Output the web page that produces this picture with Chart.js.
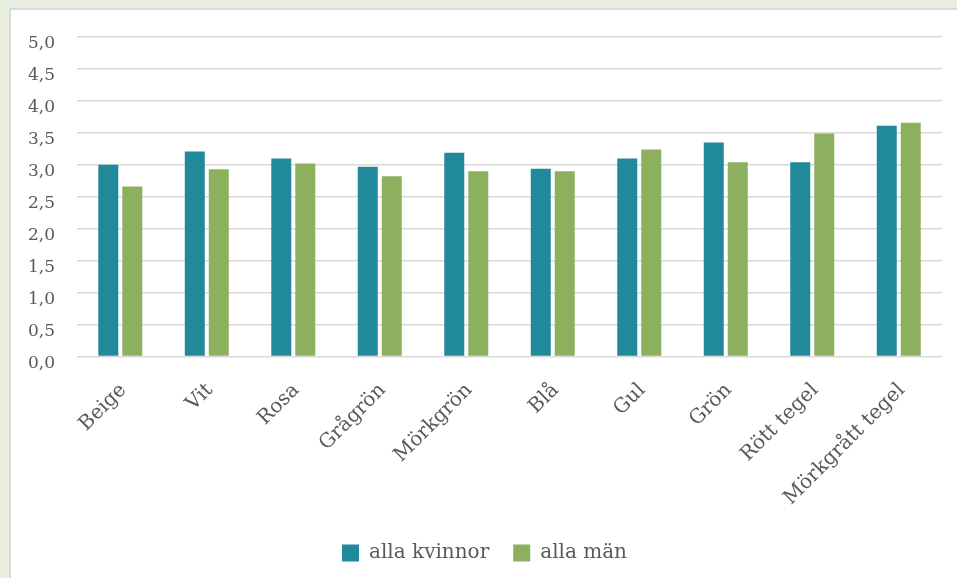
<!DOCTYPE html>
<html>
<head>
<meta charset="utf-8">
<script src="https://cdn.jsdelivr.net/npm/chart.js@4"></script>
<style>
    html, body { margin: 0; padding: 0; }
    body { width: 957px; height: 578px; background: #e9efdf; position: relative; overflow: hidden; }
    #panel {
        position: absolute; left: 9px; top: 8px; right: 0; bottom: 0;
        background: #ffffff; border-left: 2px solid #d9d9d9; border-top: 2px solid #d9d9d9;
    }
    #chart { display: block; }
</style>
</head>
<body>
<div id="panel"><canvas id="chart" width="946" height="568"></canvas></div>
<script>
// Data
const categories = ['Beige', 'Vit', 'Rosa', 'Grågrön', 'Mörkgrön', 'Blå', 'Gul', 'Grön', 'Rött tegel', 'Mörkgrått tegel'];
const kvinnor = [3.00, 3.21, 3.10, 2.97, 3.19, 2.94, 3.10, 3.35, 3.04, 3.61];
const man = [2.66, 2.93, 3.02, 2.82, 2.90, 2.90, 3.24, 3.04, 3.49, 3.66];
const yTickLabels = ['0,0', '0,5', '1,0', '1,5', '2,0', '2,5', '3,0', '3,5', '4,0', '4,5', '5,0'];

const textColor = '#595959';
const gridColor = '#d9d9d9';
const fontFamily = "'DejaVu Serif', 'Liberation Serif', serif";

Chart.defaults.color = textColor;
Chart.defaults.font.family = fontFamily;

new Chart(document.getElementById('chart'), {
    type: 'bar',
    data: {
        labels: categories,
        datasets: [
            {
                label: 'alla kvinnor',
                data: kvinnor,
                backgroundColor: '#218a9a',
                categoryPercentage: 0.555,
                barPercentage: 0.833,
            },
            {
                label: 'alla män',
                data: man,
                backgroundColor: '#8db05e',
                categoryPercentage: 0.555,
                barPercentage: 0.833,
            }
        ]
    },
    options: {
        responsive: false,
        animation: false,
        layout: { padding: { left: 16, right: 15, top: 27, bottom: 5 } },
        plugins: {
            legend: {
                position: 'bottom',
                labels: {
                    boxWidth: 17,
                    boxHeight: 17,
                    padding: 24,
                    font: { size: 20 },
                    color: textColor,
                }
            },
            tooltip: { enabled: false }
        },
        scales: {
            x: {
                grid: { display: false, drawTicks: false },
                border: { display: false },
                // no side room for the rotated labels, and less spare room under them
                afterFit: (scale) => {
                    scale.paddingLeft = 0;
                    scale.paddingRight = 0;
                    scale.height -= 13;
                },
                ticks: {
                    minRotation: 45,
                    maxRotation: 45,
                    padding: 22,
                    labelOffset: 3,
                    font: { size: 20 },
                    color: textColor,
                }
            },
            y: {
                min: 0,
                max: 5,
                grid: { color: gridColor, lineWidth: 1.6, drawTicks: false },
                border: { display: false },
                // tick padding is counted on both sides of the labels; keep only one
                afterFit: (scale) => {
                    scale.width -= scale.options.ticks.padding - 1;
                    scale.paddingTop = 0;
                    scale.paddingBottom = 0;
                },
                ticks: {
                    stepSize: 0.5,
                    padding: 22,
                    labelOffset: 7,
                    font: { size: 17 },
                    color: textColor,
                    callback: (value) => yTickLabels[Math.round(value * 2)]
                }
            }
        }
    }
});
</script>
</body>
</html>
